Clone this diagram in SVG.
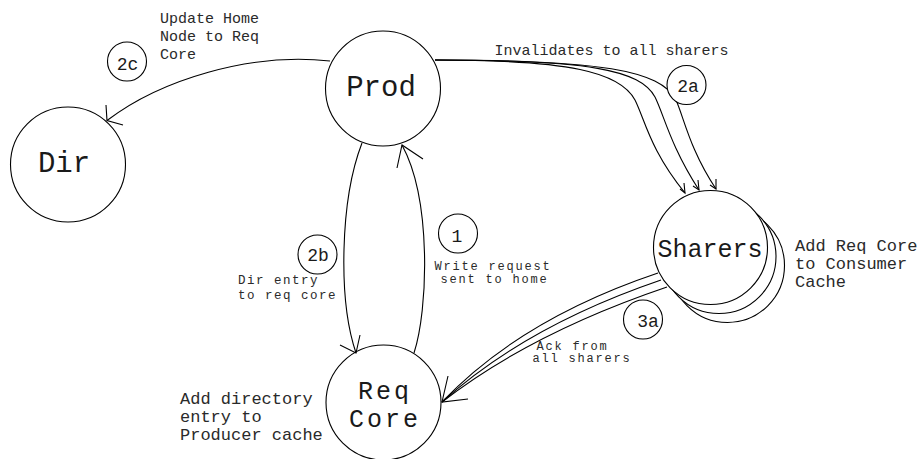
<svg xmlns="http://www.w3.org/2000/svg" width="922" height="459" viewBox="0 0 922 459">
<style>
.node{fill:#fff;stroke:#000;stroke-width:1.1}
.step{fill:#fff;stroke:#000;stroke-width:1.1}
.edge{fill:none;stroke:#000;stroke-width:1.1}
.head{fill:none;stroke:#000;stroke-width:1.1}
text{font-family:"Liberation Mono","DejaVu Sans Mono",monospace;fill:#1a1a1a}
.big{font-size:29px;text-anchor:middle}
.num{font-size:18px;text-anchor:middle}
.lbl{font-size:15px;fill:#2a2a2a}
.lbl2{font-size:17px;fill:#2a2a2a}
.sm{font-size:12px;letter-spacing:1.8px;fill:#2a2a2a}
</style>
<rect width="922" height="459" fill="#fff"/>

<g id="node-prod">
<circle class="node" cx="383" cy="88.5" r="57.5"/>
<text class="big" x="381" y="96">Prod</text>
</g>
<g id="node-dir">
<circle class="node" cx="68" cy="164.5" r="57.5"/>
<text class="big" x="64" y="172">Dir</text>
</g>
<g id="node-reqcore">
<circle class="node" cx="383.5" cy="402.5" r="57.5"/>
<text class="big" x="385" y="398.5" style="font-size:25px;letter-spacing:3px">Req</text>
<text class="big" x="385" y="427" style="font-size:25px;letter-spacing:3px">Core</text>
</g>
<g id="node-sharers">
<circle class="node" cx="727.5" cy="265.5" r="57"/>
<circle class="node" cx="719" cy="256.5" r="57"/>
<circle class="node" cx="710.5" cy="247.5" r="57"/>
<text class="big" x="710" y="257" style="font-size:25px">Sharers</text>
</g>

<g id="connectors">
<!-- 2c: Prod -> Dir -->
<path class="edge" d="M330,61 C250,52 160,80 107,120.5"/>
<path class="head" d="M106,105 L107,120.5 L123,125"/>
<!-- 2b: Prod -> Req Core -->
<path class="edge" d="M362,143 C340,200 338,300 356,353"/>
<path class="head" d="M360,335 L356,353 L340,345"/>
<!-- 1: Req Core -> Prod -->
<path class="edge" d="M414,353 C428,310 432,200 402,145"/>
<path class="head" d="M397,168 L402,145 L423,159"/>
<!-- 2a: Prod -> Sharers (x3) -->
<path class="edge" d="M435,60 C570,60 620,72 635,100 C645,120 650,150 685,193"/>
<path class="edge" d="M435,60 C590,60 640,70 655,97 C664,115 670,145 699,190"/>
<path class="edge" d="M435,60 C600,60 660,70 676,100 C684,118 690,150 716,189"/>
<path class="head" d="M680,189 L685,193 L684,183"/>
<path class="head" d="M693,186 L699,190 L698,180"/>
<path class="head" d="M710,185 L716,189 L716,179"/>
<!-- 3a: Sharers -> Req Core (x3) -->
<path class="edge" d="M658,273 Q521,319 442,402"/>
<path class="edge" d="M661,280 Q526,326 442,402"/>
<path class="edge" d="M667,287 Q531,333 442,402"/>
<path class="head" d="M448,376 L442,402 L468,399"/>
</g>

<g id="step-2c">
<circle class="step" cx="127" cy="61.5" r="19.5"/>
<text class="num" x="127.5" y="69.5">2c</text>
</g>
<g id="step-2a">
<circle class="step" cx="686.5" cy="85" r="19.5"/>
<text class="num" x="688" y="91.5">2a</text>
</g>
<g id="step-2b">
<circle class="step" cx="317.5" cy="254.5" r="19.5"/>
<text class="num" x="318" y="261">2b</text>
</g>
<g id="step-1">
<circle class="step" cx="458" cy="233.5" r="19.5"/>
<text class="num" x="457" y="241.5">1</text>
</g>
<g id="step-3a">
<circle class="step" cx="643" cy="319.5" r="19.5"/>
<text class="num" x="648" y="326.5">3a</text>
</g>

<g id="labels">
<text class="lbl" x="160" y="23">Update Home</text>
<text class="lbl" x="160" y="41">Node to Req</text>
<text class="lbl" x="160" y="58.5">Core</text>
<text class="lbl" x="494.5" y="54.5">Invalidates to all sharers</text>
<text class="sm" x="238" y="284" style="font-size:12.5px;letter-spacing:1.5px">Dir entry</text>
<text class="sm" x="238" y="299" style="font-size:12.5px;letter-spacing:1.5px">to req core</text>
<text class="sm" x="434.5" y="269.5">Write request</text>
<text class="sm" x="440.5" y="283">sent to home</text>
<text class="sm" x="536.5" y="349.5">Ack from</text>
<text class="sm" x="532.5" y="362">all sharers</text>
<text class="lbl2" x="180" y="403.5">Add directory</text>
<text class="lbl2" x="180" y="421.5">entry to</text>
<text class="lbl2" x="180" y="439.5">Producer cache</text>
<text class="lbl2" x="795" y="251">Add Req Core</text>
<text class="lbl2" x="795" y="269">to Consumer</text>
<text class="lbl2" x="795" y="287">Cache</text>
</g>
</svg>
